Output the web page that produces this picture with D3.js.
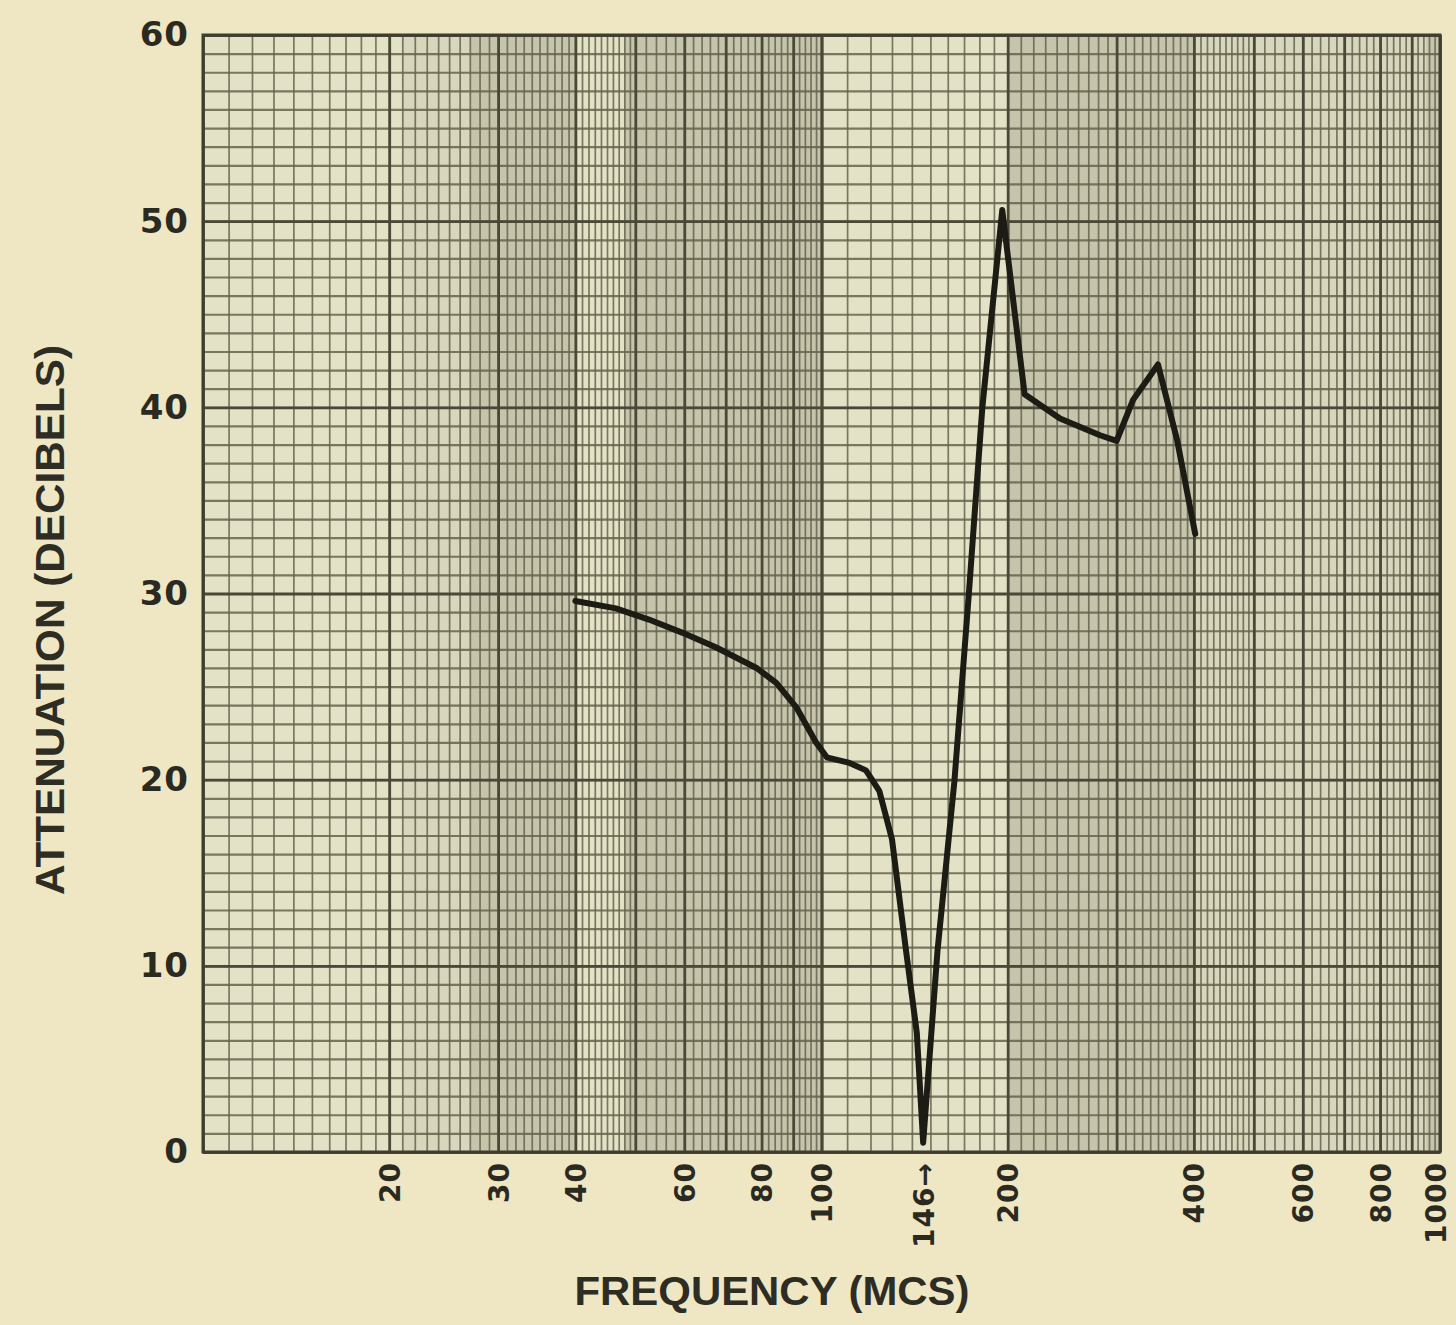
<!DOCTYPE html>
<html>
<head>
<meta charset="utf-8">
<script src="https://cdn.jsdelivr.net/npm/d3@7"></script>
<style>
  body { margin: 0; background: #efe6c4; }
  svg { display: block; }
</style>
</head>
<body>
<div id="chart"></div>
<script>
// curve: frequency (Mc/s) vs attenuation (dB)
const freqMc = [40, 46.5, 52.6, 59.5, 67.6, 78.5, 84.5, 91, 98, 102, 111, 118, 124, 130, 137, 142.6, 146,
  154, 164, 173, 182, 196, 213, 243, 282, 300, 319, 350, 376, 402];
const attenDb = [29.6, 29.2, 28.6, 27.9, 27.1, 26.0, 25.2, 23.9, 22.0, 21.2, 20.9, 20.5, 19.4, 16.8, 10.8, 6.4, 0.5,
  10.8, 19.9, 29.9, 40.0, 50.6, 40.7, 39.4, 38.5, 38.2, 40.4, 42.3, 38.2, 33.2];

const xTicks = [20, 30, 40, 60, 80, 100, 146, 200, 400, 600, 800, 1000];
const yTicks = [0, 10, 20, 30, 40, 50, 60];

// shading of the graph paper (light / grey strips), in Mc/s
const paperBands = [
  [10, 21, "light"], [21, 27, "mid"], [27, 40, "grey"], [40, 48, "light"], [48, 100, "grey"],
  [100, 200, "light"], [200, 400, "grey"], [400, 950, "mid"], [950, 1000, "grey"]
];
const bandFill = { light: "#e4e2c6", mid: "#d8d6bc", grey: "#c6c4ab" };

const W = 1456, H = 1325;
const x = d3.scaleLog().domain([10, 1000]).range([203, 1440]);
const y = d3.scaleLinear().domain([0, 60]).range([1152, 35]);
const plotH = y(0) - y(60);

const svg = d3.select("#chart").append("svg")
    .attr("width", W)
    .attr("height", H);

svg.append("rect")
    .attr("width", W).attr("height", H)
    .attr("fill", "#efe6c4");

// paper strips
svg.selectAll(".band")
    .data(paperBands)
    .join("rect")
    .attr("class", "band")
    .attr("x", d => x(d[0]))
    .attr("y", y(60))
    .attr("width", d => x(d[1]) - x(d[0]))
    .attr("height", plotH)
    .attr("fill", d => bandFill[d[2]]);

// log paper rulings
const minorX = [], majorX = [];
for (const dec of [10, 100]) {
    for (let m = 1; m < 5 - 1e-9; m += 0.1) minorX.push(+(dec * m).toFixed(3));
    for (let m = 5; m < 10 - 1e-9; m += 0.2) minorX.push(+(dec * m).toFixed(3));
    for (let m = 1; m <= 10; m++) majorX.push(dec * m);
}
const minorY = d3.range(0, 61, 1);
const majorY = d3.range(0, 61, 10);

const grid = svg.append("g").attr("class", "grid");

grid.append("g")
    .attr("transform", `translate(0,${y(0)})`)
    .call(d3.axisBottom(x).tickValues(minorX).tickSize(-plotH).tickFormat(""))
    .call(g => g.select(".domain").remove())
    .call(g => g.selectAll("line").attr("stroke", "#65644e").attr("stroke-width", 1.7).attr("stroke-opacity", 0.85));

grid.append("g")
    .attr("transform", `translate(${x(10)},0)`)
    .call(d3.axisLeft(y).tickValues(minorY).tickSize(-(x(1000) - x(10))).tickFormat(""))
    .call(g => g.select(".domain").remove())
    .call(g => g.selectAll("line").attr("stroke", "#65644e").attr("stroke-width", 2.2).attr("stroke-opacity", 0.85));

grid.append("g")
    .attr("transform", `translate(0,${y(0)})`)
    .call(d3.axisBottom(x).tickValues(majorX).tickSize(-plotH).tickFormat(""))
    .call(g => g.select(".domain").remove())
    .call(g => g.selectAll("line").attr("stroke", "#4a4937").attr("stroke-width", 2.8));

grid.append("g")
    .attr("transform", `translate(${x(10)},0)`)
    .call(d3.axisLeft(y).tickValues(majorY).tickSize(-(x(1000) - x(10))).tickFormat(""))
    .call(g => g.select(".domain").remove())
    .call(g => g.selectAll("line").attr("stroke", "#4a4937").attr("stroke-width", 2.8));

// frame
svg.append("rect")
    .attr("x", x(10)).attr("y", y(60))
    .attr("width", x(1000) - x(10)).attr("height", plotH)
    .attr("fill", "none")
    .attr("stroke", "#3e3d2e")
    .attr("stroke-width", 3);

// axes labels
const labelFont = "'DejaVu Sans', sans-serif";

svg.append("g")
    .attr("transform", `translate(0,${y(0)})`)
    .call(d3.axisBottom(x).tickValues(xTicks).tickSize(0)
        .tickFormat(d => d === 146 ? "146\u2192" : d))
    .call(g => g.select(".domain").remove())
    .call(g => g.selectAll("text")
        .attr("transform", "rotate(-90)")
        .attr("text-anchor", "end")
        .attr("x", -10)
        .attr("y", 0)
        .attr("dy", d => d === 1000 ? "0.2em" : "0.36em")
        .attr("fill", "#2b2a20")
        .style("font-family", labelFont)
        .style("font-weight", "bold")
        .style("font-size", "28px")
        .style("letter-spacing", "1px"));

svg.append("g")
    .attr("transform", `translate(${x(10)},0)`)
    .call(d3.axisLeft(y).tickValues(yTicks).tickSize(0).tickPadding(14))
    .call(g => g.select(".domain").remove())
    .call(g => g.selectAll("text")
        .attr("fill", "#2b2a20")
        .style("font-family", labelFont)
        .style("font-weight", "bold")
        .style("font-size", "34px")
        .style("letter-spacing", "1px"));

// the curve
const line = d3.line()
    .x(d => x(d[0]))
    .y(d => y(d[1]));

svg.append("path")
    .datum(d3.zip(freqMc, attenDb))
    .attr("d", line)
    .attr("fill", "none")
    .attr("stroke", "#1c1c15")
    .attr("stroke-width", 6)
    .attr("stroke-linejoin", "round")
    .attr("stroke-linecap", "round");

// titles
svg.append("text")
    .attr("x", 772)
    .attr("y", 1305)
    .attr("text-anchor", "middle")
    .attr("textLength", 395)
    .attr("lengthAdjust", "spacingAndGlyphs")
    .attr("fill", "#2e2d24")
    .style("font-family", "'Liberation Sans', Arial, sans-serif")
    .style("font-weight", "bold")
    .style("font-size", "40px")
    .text("FREQUENCY (MCS)");

svg.append("text")
    .attr("transform", "translate(64,620) rotate(-90)")
    .attr("text-anchor", "middle")
    .attr("textLength", 550)
    .attr("lengthAdjust", "spacingAndGlyphs")
    .attr("fill", "#2e2d24")
    .style("font-family", "'Liberation Sans', Arial, sans-serif")
    .style("font-weight", "bold")
    .style("font-size", "40px")
    .text("ATTENUATION (DECIBELS)");
</script>
</body>
</html>
